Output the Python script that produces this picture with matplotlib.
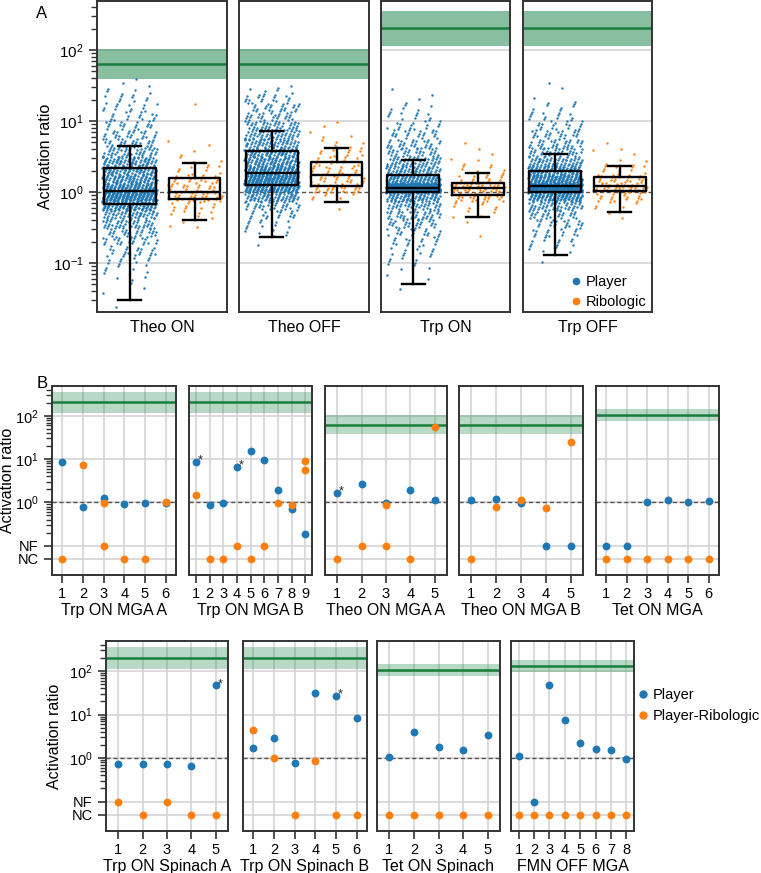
import numpy as np
import matplotlib
matplotlib.use("Agg")
import matplotlib.pyplot as plt
from matplotlib.lines import Line2D
from matplotlib.ticker import FixedLocator, NullFormatter, LogLocator, FixedFormatter

plt.rcParams['font.family'] = ['Liberation Sans', 'DejaVu Sans']
plt.rcParams['mathtext.fontset'] = 'custom'
plt.rcParams['mathtext.rm'] = 'Liberation Sans'
plt.rcParams['mathtext.it'] = 'Liberation Sans:italic'
plt.rcParams['mathtext.bf'] = 'Liberation Sans:bold'

# ======================= DATA: panel A =======================
a_conditions = ["Theo ON", "Theo OFF", "Trp ON", "Trp OFF"]
a_target_mid = [63, 63, 204, 204]
a_target_lo = [39, 39, 114, 114]
a_target_hi = [103, 103, 355, 355]

player_whislo = [0.030, 0.23, 0.050, 0.13]
player_q1 = [0.67, 1.24, 0.99, 0.99]
player_med = [1.04, 1.85, 1.16, 1.21]
player_q3 = [2.16, 3.78, 1.74, 1.96]
player_whishi = [4.45, 7.3, 2.82, 3.46]

ribo_whislo = [0.41, 0.72, 0.45, 0.52]
ribo_q1 = [0.80, 1.21, 0.91, 1.02]
ribo_med = [1.00, 1.75, 1.13, 1.21]
ribo_q3 = [1.59, 2.67, 1.34, 1.61]
ribo_whishi = [2.59, 4.17, 1.87, 2.30]

# number of designs per 1/8-decade band of activation ratio, from 10^-2 upward
hist_start_log10 = -2.0
hist_step_log10 = 0.125
theo_on_player_counts = [0, 0, 0, 1, 1, 2, 4, 7, 12, 18, 25, 30, 40, 55, 95, 180,
                         130, 90, 80, 70, 40, 30, 25, 20, 15, 12, 10, 6, 2, 0, 0, 0]
theo_on_ribo_counts = [0, 0, 0, 0, 0, 0, 0, 0, 0, 0, 0, 0, 3, 6, 10, 28,
                       20, 15, 8, 4, 2, 2, 0, 0, 0, 1, 0, 0, 0, 0, 0, 0]
theo_off_player_counts = [0, 0, 0, 0, 0, 0, 0, 0, 0, 0, 1, 7, 10, 17, 35, 70,
                          140, 190, 130, 90, 80, 60, 50, 40, 30, 25, 18, 7, 0, 0, 0, 0]
theo_off_ribo_counts = [0, 0, 0, 0, 0, 0, 0, 0, 0, 0, 0, 0, 0, 0, 1, 6,
                        25, 20, 15, 13, 10, 5, 3, 2, 0, 0, 0, 0, 0, 0, 0, 0]
trp_on_player_counts = [0, 0, 0, 0, 0, 1, 2, 4, 7, 10, 15, 20, 28, 35, 45, 80,
                        420, 100, 65, 45, 35, 28, 22, 15, 10, 6, 3, 1, 0, 0, 0, 0]
trp_on_ribo_counts = [0, 0, 0, 0, 0, 0, 0, 0, 0, 0, 0, 1, 1, 4, 7, 25,
                      35, 14, 6, 4, 2, 1, 0, 0, 0, 0, 0, 0, 0, 0, 0, 0]
trp_off_player_counts = [0, 0, 0, 0, 0, 0, 0, 0, 1, 5, 10, 15, 22, 30, 45, 120,
                         330, 140, 90, 55, 40, 30, 25, 18, 12, 7, 3, 1, 1, 0, 0, 0]
trp_off_ribo_counts = [0, 0, 0, 0, 0, 0, 0, 0, 0, 0, 0, 0, 0, 2, 5, 17,
                       38, 20, 10, 4, 3, 1, 0, 0, 0, 0, 0, 0, 0, 0, 0, 0]

player_counts = [theo_on_player_counts, theo_off_player_counts, trp_on_player_counts, trp_off_player_counts]
ribo_counts = [theo_on_ribo_counts, theo_off_ribo_counts, trp_on_ribo_counts, trp_off_ribo_counts]

# ======================= DATA: panel B =======================
b_titles = ["Trp ON MGA A", "Trp ON MGA B", "Theo ON MGA A", "Theo ON MGA B", "Tet ON MGA",
            "Trp ON Spinach A", "Trp ON Spinach B", "Tet ON Spinach", "FMN OFF MGA"]
b_target_mid = [204, 204, 63, 63, 105, 204, 204, 105, 131]
b_target_lo = [114, 114, 39, 39, 76, 114, 114, 77, 97]
b_target_hi = [355, 355, 103, 103, 142, 355, 355, 143, 178]

trp_on_mga_a_player = [8.5, 0.79, 1.28, 0.92, 0.97, 0.98]
trp_on_mga_b_player = [8.7, 0.87, 0.95, 6.5, 15.3, 9.7, 1.89, 0.69, 0.19]
theo_on_mga_a_player = [1.67, 2.6, 0.97, 1.96, 1.15]
theo_on_mga_b_player = [1.13, 1.22, 0.97, "NF", "NF"]
tet_on_mga_player = ["NF", "NF", 1.0, 1.15, 1.0, 1.09]
trp_on_spinach_a_player = [0.74, 0.71, 0.73, 0.67, 46.6]
trp_on_spinach_b_player = [1.67, 2.84, 0.78, 32, 27, 8.4]
tet_on_spinach_player = [1.04, 3.98, 1.8, 1.56, 3.4]
fmn_off_mga_player = [1.09, "NF", 48, 7.4, 2.26, 1.61, 1.53, 0.95]

trp_on_mga_a_ribo = [["NC"], [7.4], [0.95, "NF"], ["NC"], ["NC"], [1.0]]
trp_on_mga_b_ribo = [[1.45], ["NC"], ["NC"], ["NF"], ["NC"], ["NF"], [0.98], [0.88], [9.1, 5.7]]
theo_on_mga_a_ribo = [["NC"], ["NF"], [0.88, "NF"], ["NC"], [56]]
theo_on_mga_b_ribo = [["NC"], [0.79], [1.11], [0.74], [24.7]]
tet_on_mga_ribo = [["NC"], ["NC"], ["NC"], ["NC"], ["NC"], ["NC"]]
trp_on_spinach_a_ribo = [["NF"], ["NC"], ["NF"], ["NC"], ["NC"]]
trp_on_spinach_b_ribo = [[4.5], [1.0], ["NC"], [0.85], ["NC"], ["NC"]]
tet_on_spinach_ribo = [["NC"], ["NC"], ["NC"], ["NC"], ["NC"]]
fmn_off_mga_ribo = [["NC"], ["NC"], ["NC"], ["NC"], ["NC"], ["NC"], ["NC"], ["NC"]]

# designs marked with an asterisk
trp_on_mga_b_stars = [1, 4]
theo_on_mga_a_stars = [1]
trp_on_spinach_a_stars = [5]
trp_on_spinach_b_stars = [5]

b_player = [trp_on_mga_a_player, trp_on_mga_b_player, theo_on_mga_a_player, theo_on_mga_b_player,
            tet_on_mga_player, trp_on_spinach_a_player, trp_on_spinach_b_player,
            tet_on_spinach_player, fmn_off_mga_player]
b_ribo = [trp_on_mga_a_ribo, trp_on_mga_b_ribo, theo_on_mga_a_ribo, theo_on_mga_b_ribo,
          tet_on_mga_ribo, trp_on_spinach_a_ribo, trp_on_spinach_b_ribo,
          tet_on_spinach_ribo, fmn_off_mga_ribo]
b_stars = [[], trp_on_mga_b_stars, theo_on_mga_a_stars, [], [], trp_on_spinach_a_stars,
           trp_on_spinach_b_stars, [], []]

# ======================= STYLE =======================
BLUE = '#1f77b4'
ORANGE = '#ff7f0e'
GREEN = '#258c52'
GREEN_LINE = '#197d3c'
GRID = '#d4d4d4'
SPINE = '#333333'
NF_POS, NC_POS = 0.1, 0.05

W, H = 761, 873
fig = plt.figure(figsize=(W / 100, H / 100), dpi=100)


def add_ax(x0, x1, y0, y1):
    return fig.add_axes([x0 / W, 1 - y1 / H, (x1 - x0) / W, (y1 - y0) / H])


def style_spines(ax):
    for s in ax.spines.values():
        s.set_color(SPINE)
        s.set_linewidth(1.4)


def strip_points(counts, center, width, seed_offset):
    xs, ys = [], []
    g = seed_offset
    for k, n in enumerate(counts):
        lo = hist_start_log10 + k * hist_step_log10
        for j in range(n):
            g += 1
            yf = (0.5 + g * 0.5698402910) % 1.0
            xf = (0.5 + g * 0.7548776662) % 1.0
            ys.append(10 ** (lo + hist_step_log10 * yf))
            xs.append(center + (xf - 0.5) * width)
    return np.array(xs), np.array(ys)


# ======================= PANEL A =======================
a_xs = [(97, 227), (239, 369), (381, 510), (523, 652)]
for i, cond in enumerate(a_conditions):
    ax = add_ax(a_xs[i][0], a_xs[i][1], 1, 312)
    ax.set_yscale('log')
    ax.set_ylim(0.0205, 490)
    ax.set_xlim(-0.5, 1.5)
    ax.axhspan(a_target_lo[i], a_target_hi[i], color=GREEN, alpha=0.55, lw=0, zorder=1)
    ax.axhline(a_target_mid[i], color=GREEN_LINE, lw=1.8, zorder=2)
    for yv in [0.1, 10, 100]:
        ax.axhline(yv, color=GRID, lw=1.2, zorder=0.5)
    ax.axhline(1, color='#555555', lw=1.0, ls=(0, (3, 2)), zorder=2.2)

    px, py = strip_points(player_counts[i], 0, 0.84, 0)
    ax.scatter(px, py, s=3, color=BLUE, lw=0, zorder=2.5)
    rx, ry = strip_points(ribo_counts[i], 1, 0.84, 7)
    ax.scatter(rx, ry, s=3, color=ORANGE, lw=0, zorder=2.5)

    stats = [
        dict(med=player_med[i], q1=player_q1[i], q3=player_q3[i],
             whislo=player_whislo[i], whishi=player_whishi[i], fliers=[]),
        dict(med=ribo_med[i], q1=ribo_q1[i], q3=ribo_q3[i],
             whislo=ribo_whislo[i], whishi=ribo_whishi[i], fliers=[]),
    ]
    lp = dict(color='black', lw=1.7)
    ax.bxp(stats, positions=[0, 1], widths=0.8, showfliers=False,
           boxprops=lp, whiskerprops=lp, capprops=lp, medianprops=lp,
           capwidths=0.36, manage_ticks=False, zorder=3)
    ax.set_xticks([])
    ax.set_xlabel(cond, fontsize=11.5, labelpad=6)
    style_spines(ax)
    if i == 0:
        ax.yaxis.set_major_locator(LogLocator(base=10, numticks=20))
        ax.yaxis.set_minor_locator(LogLocator(base=10, subs=np.arange(2, 10), numticks=20))
        ax.yaxis.set_minor_formatter(NullFormatter())
        ax.tick_params(axis='y', which='major', length=6, width=1.2, color=SPINE, labelsize=11)
        ax.tick_params(axis='y', which='minor', length=4, width=1.0, color=SPINE)
        ax.set_ylabel('Activation ratio', fontsize=11.5)
        ax.yaxis.set_label_coords((53 - 97) / 130, 0.5)
    else:
        ax.tick_params(axis='y', which='both', left=False, labelleft=False)
    if i == 3:
        handles = [Line2D([], [], ls='', marker='o', ms=4.5, color=BLUE, label='Player'),
                   Line2D([], [], ls='', marker='o', ms=4.5, color=ORANGE, label='Ribologic')]
        ax.legend(handles=handles, loc='lower right', frameon=False, fontsize=10.5,
                  handletextpad=0.05, borderaxespad=0.0, labelspacing=0.4, handlelength=1.2,
                  bbox_to_anchor=(1.0, -0.008))

fig.text(42 / W, 1 - 13 / H, 'A', fontsize=12, ha='center', va='center')
fig.text(42 / W, 1 - 383 / H, 'B', fontsize=12, ha='center', va='center')

# ======================= PANEL B =======================
b_boxes = [((52, 176), (386, 575)), ((189, 312), (386, 575)), ((325, 447), (386, 575)),
           ((459, 583), (386, 575)), ((596, 719), (386, 575)),
           ((106, 228), (641, 831)), ((243, 367), (641, 831)), ((377, 500), (641, 831)),
           ((511, 634), (641, 831))]
ylabel_right_x = {0: 15, 5: 62}
minor_b = [v * 10.0 ** e for e in (-1, 0, 1) for v in range(2, 10)] + [200, 300, 400]


def to_pos(v):
    if isinstance(v, str):
        return NF_POS if v == 'NF' else NC_POS
    return v


for p in range(9):
    (x0, x1), (y0, y1) = b_boxes[p]
    ax = add_ax(x0, x1, y0, y1)
    n = len(b_player[p])
    xv = np.arange(1, n + 1)
    ax.set_yscale('log')
    ax.set_ylim(0.021, 490)
    ax.set_xlim(0.5, n + 0.5)
    ax.set_axisbelow(True)
    ax.axhspan(b_target_lo[p], b_target_hi[p], color=GREEN, alpha=0.33, lw=0, zorder=1)
    ax.axhline(b_target_mid[p], color=GREEN_LINE, lw=1.8, zorder=2)
    ax.axhline(1, color='#555555', lw=1.0, ls=(0, (3, 2)), zorder=2.2)
    ax.set_xticks(xv)
    ax.set_xticklabels([str(k) for k in xv])
    ax.yaxis.set_major_locator(FixedLocator([NC_POS, NF_POS, 1, 10, 100]))
    ax.yaxis.set_major_formatter(FixedFormatter(['NC', 'NF', r'$\mathdefault{10^{0}}$',
                                                 r'$\mathdefault{10^{1}}$', r'$\mathdefault{10^{2}}$']))
    ax.yaxis.set_minor_locator(FixedLocator(minor_b))
    ax.yaxis.set_minor_formatter(NullFormatter())
    ax.grid(True, which='major', color=GRID, lw=1.2)

    ax.scatter(xv, [to_pos(v) for v in b_player[p]], s=32, color=BLUE, lw=0, zorder=3)
    rx, ry = [], []
    for k, vals in enumerate(b_ribo[p]):
        for v in vals:
            rx.append(k + 1)
            ry.append(to_pos(v))
    ax.scatter(rx, ry, s=32, color=ORANGE, lw=0, zorder=4)
    for k in b_stars[p]:
        ax.annotate('*', xy=(k, to_pos(b_player[p][k - 1])), xytext=(3.2, 1.0),
                    textcoords='offset points', fontsize=9, ha='center', va='center',
                    color='#222222', zorder=5)

    ax.tick_params(axis='x', which='major', length=6, width=1.2, color=SPINE, labelsize=10.5, pad=3)
    if p in ylabel_right_x:
        ax.tick_params(axis='y', which='major', length=6, width=1.2, color=SPINE, labelsize=10.5)
        ax.tick_params(axis='y', which='minor', length=4, width=1.0, color=SPINE)
        ax.set_ylabel('Activation ratio', fontsize=11.5)
        ax.yaxis.set_label_coords((ylabel_right_x[p] - x0) / (x1 - x0), 0.5)
    else:
        ax.tick_params(axis='y', which='both', left=False, labelleft=False)
    ax.set_xlabel(b_titles[p], fontsize=11.5, labelpad=1)
    style_spines(ax)

handles_b = [Line2D([], [], ls='', marker='o', ms=5, color=BLUE, label='Player'),
             Line2D([], [], ls='', marker='o', ms=5, color=ORANGE, label='Player-Ribologic')]
fig.legend(handles=handles_b, loc='upper left', bbox_to_anchor=(621 / W, 1 - 675 / H),
           frameon=False, fontsize=10.5, handletextpad=0.1, labelspacing=0.45, handlelength=1.2)

fig.savefig('out.png', dpi=100)
